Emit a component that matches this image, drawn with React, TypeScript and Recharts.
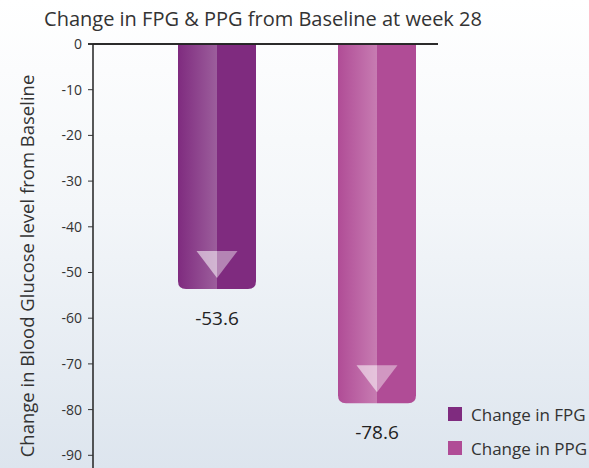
import React from 'react';
import { Bar, BarChart, Cell, LabelList, XAxis, YAxis } from 'recharts';

const categories = ['FPG', 'PPG'];
const changeValues = [-53.6, -78.6];
const seriesNames = ['Change in FPG', 'Change in PPG'];
const yTicks = [0, -10, -20, -30, -40, -50, -60, -70, -80, -90];

const FONT = '"Open Sans", "DejaVu Sans", sans-serif';
const barColors = ['#7f2b7f', '#b04c96'];
const barLights = ['#9c5e9c', '#c77cb2'];
const PLOT_TOP = 44;
const PLOT_LEFT = 93;
const PLOT_RIGHT = 438;

const data = categories.map((c, i) => ({ name: c, value: changeValues[i] }));

// Bar with rounded bottom corners and a translucent down arrow near its end.
function ArrowBar(props: any) {
  const { x, y, width, height, index } = props;
  const top = Math.min(y, y + height);
  const h = Math.abs(height);
  const bottom = top + h;
  const r = 8;
  const path = `M${x},${top} H${x + width} V${bottom - r} Q${x + width},${bottom} ${x + width - r},${bottom} H${x + r} Q${x},${bottom} ${x},${bottom - r} Z`;
  const cx = x + width / 2;
  const tip = bottom - 11;
  const triTop = tip - 27;
  const half = 20.5;
  return (
    <g>
      <path d={path} fill={`url(#barGrad${index})`} />
      <polygon points={`${cx - half},${triTop} ${cx},${triTop} ${cx},${tip}`} fill="rgba(255,255,255,0.55)" />
      <polygon points={`${cx},${triTop} ${cx + half},${triTop} ${cx},${tip}`} fill="rgba(255,255,255,0.42)" />
    </g>
  );
}

function ValueLabel(props: any) {
  const { x, y, width, height, value } = props;
  const bottom = Math.max(y, y + height);
  return (
    <text
      x={x + width / 2}
      y={bottom + 29}
      textAnchor="middle"
      dominantBaseline="central"
      fontSize={19}
      fontFamily={FONT}
      fill="#222"
    >
      {value}
    </text>
  );
}

function YLabel() {
  return (
    <text
      x={26}
      y={266}
      transform="rotate(-90 26 266)"
      textAnchor="middle"
      dominantBaseline="central"
      fontSize={18.5}
      fontFamily={FONT}
      fill="#333"
    >
      Change in Blood Glucose level from Baseline
    </text>
  );
}

export default function App() {
  return (
    <div
      style={{
        position: 'absolute',
        left: 0,
        top: 0,
        width: 589,
        height: 468,
        overflow: 'hidden',
        background: 'linear-gradient(to bottom, #ffffff 0%, #f3f6f9 45%, #dde5ee 100%)',
        fontFamily: FONT,
      }}
    >
      <div
        style={{
          position: 'absolute',
          left: 0,
          width: 526,
          top: 5,
          textAlign: 'center',
          fontSize: 20,
          lineHeight: '28px',
          color: '#333',
        }}
      >
        Change in FPG &amp; PPG from Baseline at week 28
      </div>
      <BarChart
        width={589}
        height={501}
        data={data}
        margin={{ top: PLOT_TOP - 1, right: 589 - PLOT_RIGHT, bottom: 0, left: PLOT_LEFT - 60 }}
        style={{ position: 'absolute', left: 0, top: 0 }}
      >
        <defs>
          {barColors.map((c, i) => (
            <linearGradient key={i} id={`barGrad${i}`} x1="0" y1="0" x2="1" y2="0">
              <stop offset="0%" stopColor={c} />
              <stop offset="50%" stopColor={barLights[i]} />
              <stop offset="50%" stopColor={c} />
              <stop offset="100%" stopColor={c} />
            </linearGradient>
          ))}
        </defs>
        <XAxis
          dataKey="name"
          orientation="top"
          height={1}
          tick={false}
          tickLine={false}
          axisLine={{ stroke: '#2a2a2a', strokeWidth: 1.5 }}
          padding={{ left: 44, right: -19 }}
        />
        <YAxis
          domain={[-100, 0]}
          ticks={yTicks}
          width={60}
          interval={0}
          tickSize={5}
          tickMargin={6}
          tick={{ fontSize: 14, fill: '#333', fontFamily: FONT }}
          tickLine={{ stroke: '#333' }}
          axisLine={{ stroke: '#222', strokeWidth: 1.5 }}
          label={<YLabel />}
        />
        <Bar dataKey="value" barSize={78} shape={<ArrowBar />} isAnimationActive={false}>
          {data.map((d, i) => (
            <Cell key={d.name} fill={barColors[i]} />
          ))}
          <LabelList dataKey="value" content={<ValueLabel />} />
        </Bar>
      </BarChart>
      {/* baseline at 0 along the top of the plot */}
      <div
        style={{
          position: 'absolute',
          zIndex: 2,
          left: PLOT_LEFT - 5,
          top: PLOT_TOP - 1,
          width: PLOT_RIGHT - PLOT_LEFT + 5,
          height: 2,
          background: 'rgba(34,34,34,0.85)',
        }}
      />
      <div style={{ position: 'absolute', left: 448, top: 397 }}>
        {seriesNames.map((n, i) => (
          <div key={n} style={{ display: 'flex', alignItems: 'center', height: 34 }}>
            <span style={{ width: 14, height: 14, background: barColors[i], marginRight: 9, flex: 'none' }} />
            <span style={{ fontSize: 17, color: '#333', whiteSpace: 'nowrap' }}>{n}</span>
          </div>
        ))}
      </div>
    </div>
  );
}
